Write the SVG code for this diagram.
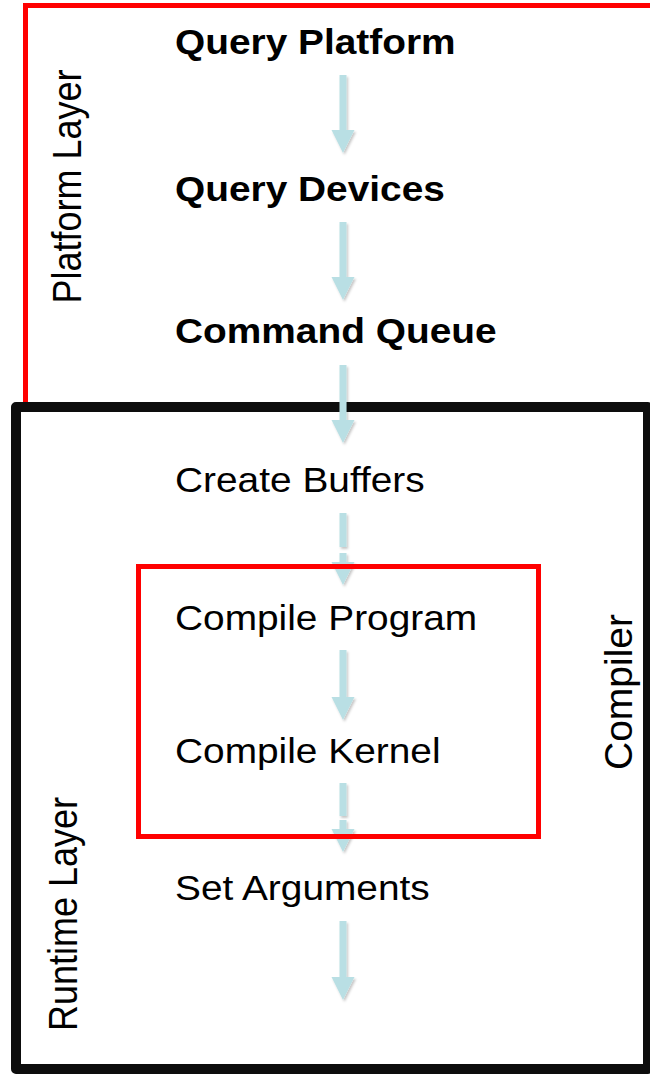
<svg xmlns="http://www.w3.org/2000/svg" width="650" height="1074" viewBox="0 0 650 1074">
<style>
.t{font-family:"Liberation Sans",Arial,sans-serif;font-size:35px;fill:#000}
.b{font-weight:bold}
.v{font-family:"Liberation Sans",Arial,sans-serif;font-size:36px;fill:#000;text-anchor:middle}
.arr{fill:#b9dfe4;filter:url(#sh)}
.red{fill:none;stroke:#ff0000;stroke-width:5}
.blk{fill:none;stroke:#0d0d0d;stroke-width:10;stroke-linejoin:round}
</style>
<defs>
<filter id="sh" x="-50%" y="-20%" width="200%" height="140%">
<feDropShadow dx="1.5" dy="2" stdDeviation="1.2" flood-color="#000" flood-opacity="0.22"/>
</filter>
</defs>
<g id="platform-layer">
<rect class="red" x="25.5" y="5.5" width="700" height="402"/>
<text class="v" transform="translate(81,186.5) scale(1.11,1) rotate(-90)">Platform Layer</text>
</g>
<g id="runtime-layer">
<rect class="blk" x="16" y="407" width="632" height="662"/>
<text class="v" transform="translate(77,914) scale(1.11,1) rotate(-90)">Runtime Layer</text>
</g>
<g id="connectors">
<path class="arr" d="M339.5,75H346.5V130H354.5L343,153L331.5,130H339.5Z"/>
<path class="arr" d="M339.5,222H346.5V277H354.5L343,300L331.5,277H339.5Z"/>
<path class="arr" d="M339.5,365H346.5V420H354.5L343,443L331.5,420H339.5Z"/>
<path class="arr" d="M339.5,513H346.5V547H339.5Z M339.5,553H346.5V562H354.5L343,585L331.5,562H339.5Z"/>
<path class="arr" d="M339.5,650H346.5V697H354.5L343,720L331.5,697H339.5Z"/>
<path class="arr" d="M339.5,783H346.5V816H339.5Z M339.5,820H346.5V829H354.5L343,852L331.5,829H339.5Z"/>
<path class="arr" d="M339.5,921H346.5V977H354.5L343,1000L331.5,977H339.5Z"/>
</g>
<g id="compiler">
<rect class="red" x="138.5" y="566.5" width="400" height="270"/>
<text class="v" style="font-size:39px" transform="translate(632,692) rotate(-90)">Compiler</text>
</g>
<g id="query-platform"><text class="t b" transform="translate(175,54) scale(1.11,1)">Query Platform</text></g>
<g id="query-devices"><text class="t b" transform="translate(175,201) scale(1.11,1)">Query Devices</text></g>
<g id="command-queue"><text class="t b" transform="translate(175,343) scale(1.11,1)">Command Queue</text></g>
<g id="create-buffers"><text class="t" transform="translate(175,492) scale(1.11,1)">Create Buffers</text></g>
<g id="compile-program"><text class="t" transform="translate(175,630) scale(1.11,1)">Compile Program</text></g>
<g id="compile-kernel"><text class="t" transform="translate(175,763) scale(1.11,1)">Compile Kernel</text></g>
<g id="set-arguments"><text class="t" transform="translate(175,900) scale(1.11,1)">Set Arguments</text></g>
</svg>
